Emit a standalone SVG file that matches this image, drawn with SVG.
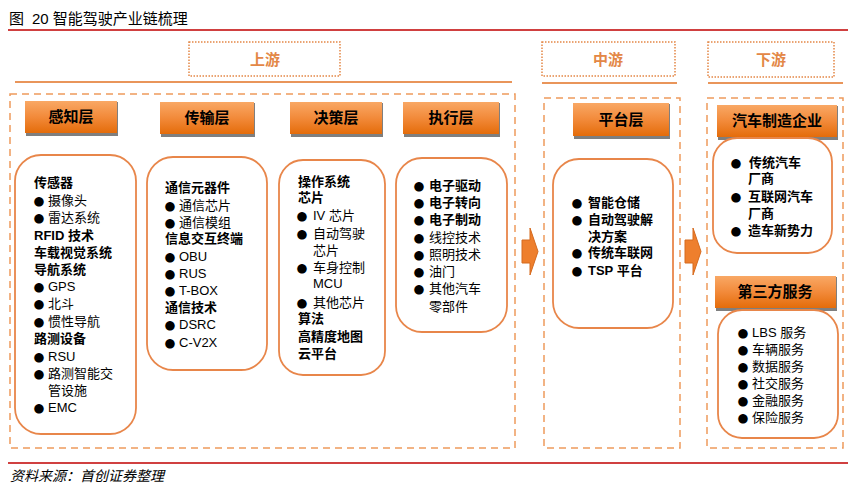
<svg xmlns="http://www.w3.org/2000/svg" width="858" height="488" viewBox="0 0 858 488">
<defs>
<linearGradient id="og" x1="0" y1="0" x2="0" y2="1">
<stop offset="0" stop-color="#F9A865"/>
<stop offset="0.5" stop-color="#F28A3A"/>
<stop offset="1" stop-color="#E46C0A"/>
</linearGradient>
<style>
.t{font-family:"Liberation Sans","Noto Sans CJK SC",sans-serif;font-size:13px;fill:#000}
.b{font-weight:bold}
.d{font-family:"DejaVu Sans",sans-serif;font-size:12.5px;fill:#000;text-anchor:middle}
.hd{font-family:"Liberation Sans","Noto Sans CJK SC",sans-serif;font-size:15px;font-weight:bold;fill:#000;text-anchor:middle}
.sec{font-family:"Liberation Sans","Noto Sans CJK SC",sans-serif;font-size:15px;font-weight:bold;fill:#E38746;text-anchor:middle}
.dot{fill:none;stroke:#E38746;stroke-width:1.5;stroke-dasharray:1.5 1.5}
.ul{stroke:#E9955A;stroke-width:2}
.dash{fill:none;stroke:#EE9A5C;stroke-width:1.5;stroke-dasharray:7 5}
.rb{fill:#fff;stroke:#E8864A;stroke-width:1.8}
.hb{fill:url(#og)}
.sh{fill:#7F7F7F}
.arr{fill:#EE7F2D;stroke:#D56A1E;stroke-width:1}
</style>
</defs>
<rect width="858" height="488" fill="#fff"/>
<text x="9" y="24" font-family="Liberation Sans,Noto Sans CJK SC,sans-serif" font-size="15" fill="#000">图<tspan dx="8">20 智能驾驶产业链梳理</tspan></text>
<line x1="8" y1="30" x2="848" y2="30" stroke="#C00000" stroke-width="1.5"/>
<line x1="8" y1="463" x2="848" y2="463" stroke="#C00000" stroke-width="1.5"/>
<text x="10" y="481" font-family="Liberation Serif,Noto Sans CJK SC,serif" font-size="14" font-style="italic" fill="#000">资料来源：首创证券整理</text>

<g id="sec-up">
<rect class="dot" x="189" y="42" width="151" height="34"/>
<text class="sec" x="265" y="65">上游</text>
<line class="ul" x1="15" y1="82" x2="512" y2="82"/>
<rect class="dash" x="10" y="94" width="505" height="354"/>
</g>
<g id="sec-mid">
<rect class="dot" x="542" y="42" width="133" height="34"/>
<text class="sec" x="608" y="65">中游</text>
<line class="ul" x1="542" y1="83" x2="677" y2="83"/>
<rect class="dash" x="544" y="98" width="136" height="350"/>
</g>
<g id="sec-down">
<rect class="dot" x="708" y="42" width="126" height="35"/>
<text class="sec" x="771" y="65">下游</text>
<line class="ul" x1="708" y1="83" x2="843" y2="83"/>
<rect class="dash" x="707" y="98" width="136" height="350"/>
</g>

<g id="connectors">
<path class="arr" d="M522,240 H530 V228 L538,251.5 L530,275 V263 H522 Z"/>
<path class="arr" d="M685,240 H693 V228 L701,251.5 L693,275 V263 H685 Z"/>
</g>

<g id="perception">
<rect class="sh" x="26" y="102" width="92" height="34"/>
<rect class="hb" x="25" y="101" width="92" height="32"/>
<text class="hd" x="71" y="122">感知层</text>
<rect class="rb" x="15" y="155" width="121" height="279" rx="26"/>
<text class="t b" x="34" y="187">传感器</text>
<text class="d" x="39" y="204.5">●</text><text class="t" x="48" y="204.5">摄像头</text>
<text class="d" x="39" y="222">●</text><text class="t" x="48" y="222">雷达系统</text>
<text class="t b" x="34" y="239.5">RFID 技术</text>
<text class="t b" x="34" y="256.5">车载视觉系统</text>
<text class="t b" x="34" y="273.5">导航系统</text>
<text class="d" x="39" y="290.5">●</text><text class="t" x="48" y="290.5">GPS</text>
<text class="d" x="39" y="308">●</text><text class="t" x="48" y="308">北斗</text>
<text class="d" x="39" y="325.5">●</text><text class="t" x="48" y="325.5">惯性导航</text>
<text class="t b" x="34" y="342.5">路测设备</text>
<text class="d" x="39" y="360.5">●</text><text class="t" x="48" y="360.5">RSU</text>
<text class="d" x="39" y="377.5">●</text><text class="t" x="48" y="377.5">路测智能交</text>
<text class="t" x="48" y="394.5">管设施</text>
<text class="d" x="39" y="412">●</text><text class="t" x="48" y="412">EMC</text>
</g>

<g id="transmission">
<rect class="sh" x="161" y="103" width="94" height="34"/>
<rect class="hb" x="160" y="102" width="94" height="32"/>
<text class="hd" x="207" y="123">传输层</text>
<rect class="rb" x="147" y="157" width="120" height="213" rx="26"/>
<text class="t b" x="165" y="191.5">通信元器件</text>
<text class="d" x="170" y="209.5">●</text><text class="t" x="179" y="209.5">通信芯片</text>
<text class="d" x="170" y="226.5">●</text><text class="t" x="179" y="226.5">通信模组</text>
<text class="t b" x="165" y="242.5">信息交互终端</text>
<text class="d" x="170" y="260.5">●</text><text class="t" x="179" y="260.5">OBU</text>
<text class="d" x="170" y="277.5">●</text><text class="t" x="179" y="277.5">RUS</text>
<text class="d" x="170" y="294.5">●</text><text class="t" x="179" y="294.5">T-BOX</text>
<text class="t b" x="165" y="311.5">通信技术</text>
<text class="d" x="170" y="328.5">●</text><text class="t" x="179" y="328.5">DSRC</text>
<text class="d" x="170" y="346.5">●</text><text class="t" x="179" y="346.5">C-V2X</text>
</g>

<g id="decision">
<rect class="sh" x="291" y="103" width="92" height="34"/>
<rect class="hb" x="290" y="102" width="92" height="32"/>
<text class="hd" x="336" y="123">决策层</text>
<rect class="rb" x="279" y="160" width="106" height="215" rx="24"/>
<text class="t b" x="298" y="185.5">操作系统</text>
<text class="t b" x="298" y="201.5">芯片</text>
<text class="d" x="302" y="219.5">●</text><text class="t" x="313" y="219.5">IV 芯片</text>
<text class="d" x="302" y="237.5">●</text><text class="t" x="313" y="237.5">自动驾驶</text>
<text class="t" x="313" y="254.5">芯片</text>
<text class="d" x="302" y="271.5">●</text><text class="t" x="313" y="271.5">车身控制</text>
<text class="t" x="313" y="287.5" font-size="11">MCU</text>
<text class="d" x="302" y="306.5">●</text><text class="t" x="313" y="306.5">其他芯片</text>
<text class="t b" x="298" y="322.5">算法</text>
<text class="t b" x="298" y="340.5">高精度地图</text>
<text class="t b" x="298" y="357.5">云平台</text>
</g>

<g id="execution">
<rect class="sh" x="404" y="103" width="96" height="34"/>
<rect class="hb" x="403" y="102" width="96" height="32"/>
<text class="hd" x="451" y="123">执行层</text>
<rect class="rb" x="396" y="158" width="111" height="174" rx="26"/>
<text class="d" x="419" y="189.5">●</text><text class="t b" x="429" y="189.5">电子驱动</text>
<text class="d" x="419" y="206.5">●</text><text class="t b" x="429" y="206.5">电子转向</text>
<text class="d" x="419" y="223.5">●</text><text class="t b" x="429" y="223.5">电子制动</text>
<text class="d" x="419" y="241.5">●</text><text class="t" x="429" y="241.5">线控技术</text>
<text class="d" x="419" y="258.5">●</text><text class="t" x="429" y="258.5">照明技术</text>
<text class="d" x="419" y="275.5">●</text><text class="t" x="429" y="275.5">油门</text>
<text class="d" x="419" y="292.5">●</text><text class="t" x="429" y="292.5">其他汽车</text>
<text class="t" x="429" y="310.5">零部件</text>
</g>

<g id="platform">
<rect class="sh" x="574" y="104" width="96" height="35"/>
<rect class="hb" x="573" y="103" width="96" height="33"/>
<text class="hd" x="621" y="125">平台层</text>
<rect class="rb" x="553" y="159" width="120" height="169" rx="26"/>
<text class="d" x="577" y="206.5">●</text><text class="t b" x="588" y="206.5">智能仓储</text>
<text class="d" x="577" y="223.5">●</text><text class="t b" x="588" y="223.5">自动驾驶解</text>
<text class="t b" x="588" y="240.5">决方案</text>
<text class="d" x="577" y="256.5">●</text><text class="t b" x="588" y="256.5">传统车联网</text>
<text class="d" x="577" y="274.5">●</text><text class="t b" x="588" y="274.5">TSP 平台</text>
</g>

<g id="automaker">
<rect class="sh" x="718" y="106" width="120" height="34"/>
<rect class="hb" x="717" y="105" width="120" height="32"/>
<text class="hd" x="777" y="126">汽车制造企业</text>
<rect class="rb" x="713" y="138" width="119" height="115" rx="24"/>
<text class="d" x="736" y="166.5">●</text><text class="t b" x="749" y="166.5">传统汽车</text>
<text class="t b" x="748" y="182.5">厂商</text>
<text class="d" x="736" y="200.5">●</text><text class="t b" x="748" y="200.5">互联网汽车</text>
<text class="t b" x="748" y="217.5">厂商</text>
<text class="d" x="736" y="234.5">●</text><text class="t b" x="748" y="234.5">造车新势力</text>
</g>

<g id="third-party">
<rect class="sh" x="716" y="277" width="121" height="34"/>
<rect class="hb" x="715" y="276" width="121" height="32"/>
<text class="hd" x="775" y="297">第三方服务</text>
<rect class="rb" x="718" y="310" width="120" height="128" rx="24"/>
<text class="d" x="743" y="336.5">●</text><text class="t" x="752" y="336.5">LBS 服务</text>
<text class="d" x="743" y="353.5">●</text><text class="t" x="752" y="353.5">车辆服务</text>
<text class="d" x="743" y="370.5">●</text><text class="t" x="752" y="370.5">数据服务</text>
<text class="d" x="743" y="387.5">●</text><text class="t" x="752" y="387.5">社交服务</text>
<text class="d" x="743" y="404.5">●</text><text class="t" x="752" y="404.5">金融服务</text>
<text class="d" x="743" y="421.5">●</text><text class="t" x="752" y="421.5">保险服务</text>
</g>
</svg>
